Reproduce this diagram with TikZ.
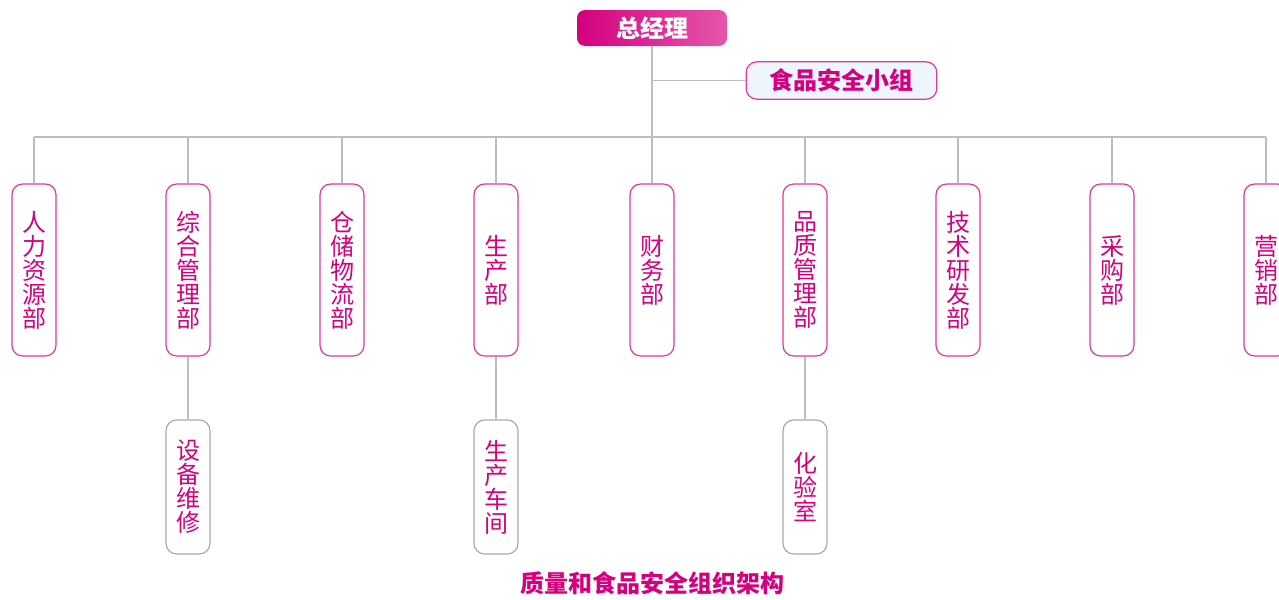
\documentclass[tikz,border=0pt]{standalone}
\usepackage{fontspec}
\newfontfamily\cjk{Noto Sans CJK SC}
\usepackage{tikz}
\definecolor{rosetext}{HTML}{D4007F}
\definecolor{roseline}{HTML}{E0399A}
\definecolor{greyline}{HTML}{AAAAAA}
\definecolor{linkgrey}{HTML}{BDBDBD}
\definecolor{paleblue}{HTML}{EEF5FC}
\begin{document}
\begin{tikzpicture} [x=0.75pt,y=-0.75pt,
	dept/.style={draw=roseline,line width=0.9pt,rounded corners=8pt,fill=white,minimum width=33pt,minimum height=129pt,inner sep=0pt,align=center,text=rosetext,font=\cjk\fontsize{18}{18}\selectfont},
	subdept/.style={dept,draw=greyline,minimum height=100.5pt},
	link/.style={draw=linkgrey,line width=0.8pt}]
			\useasboundingbox (0,0) rectangle (1279,600);
			% top of the chart
			\node [rounded corners=6pt,left color=rosetext,right color=roseline!85!white,minimum width=112.5pt,minimum height=27pt,inner sep=0pt,text=white,font=\cjk\bfseries\fontsize{18}{18}\selectfont] (gm) at (652,28) {总经理};
			\node [draw=roseline,line width=0.9pt,rounded corners=8pt,fill=paleblue,minimum width=143pt,minimum height=28pt,inner sep=0pt,text=rosetext,font=\cjk\bfseries\fontsize{18}{18}\selectfont] (food) at (841.5,80.5) {食品安全小组};
			\coordinate (bus) at (652,137);
			% departments
			\node [dept] (hr) at (34,270) {人\\力\\资\\源\\部};
			\node [dept] (admin) at (188,270) {综\\合\\管\\理\\部};
			\node [dept] (store) at (342,270) {仓\\储\\物\\流\\部};
			\node [dept] (prod) at (496,270) {生\\产\\部};
			\node [dept] (fin) at (652,270) {财\\务\\部};
			\node [dept] (qa) at (805,270) {品\\质\\管\\理\\部};
			\node [dept] (tech) at (958,270) {技\\术\\研\\发\\部};
			\node [dept] (buy) at (1112,270) {采\\购\\部};
			\node [dept] (sales) at (1266,270) {营\\销\\部};
			% second level
			\node [subdept] (repair) at (188,487) {设\\备\\维\\修};
			\node [subdept] (shop) at (496,487) {生\\产\\车\\间};
			\node [subdept] (lab) at (805,487) {化\\验\\室};
			% connectors
			\draw [link] (gm.south) -- (bus);
			\draw [link] (gm.south |- food.west) -- (food.west);
			\draw [link] (hr.north |- bus) -- (sales.north |- bus);
			\draw [link] (hr.north) -- (hr.north |- bus);
			\draw [link] (admin.north) -- (admin.north |- bus);
			\draw [link] (store.north) -- (store.north |- bus);
			\draw [link] (prod.north) -- (prod.north |- bus);
			\draw [link] (fin.north) -- (bus);
			\draw [link] (qa.north) -- (qa.north |- bus);
			\draw [link] (tech.north) -- (tech.north |- bus);
			\draw [link] (buy.north) -- (buy.north |- bus);
			\draw [link] (sales.north) -- (sales.north |- bus);
			\draw [link] (admin.south) -- (repair.north);
			\draw [link] (prod.south) -- (shop.north);
			\draw [link] (qa.south) -- (lab.north);
			% caption
			\node [text=rosetext,font=\cjk\bfseries\fontsize{18}{18}\selectfont] (title) at (652,583) {质量和食品安全组织架构};
		\end{tikzpicture}
\end{document}
